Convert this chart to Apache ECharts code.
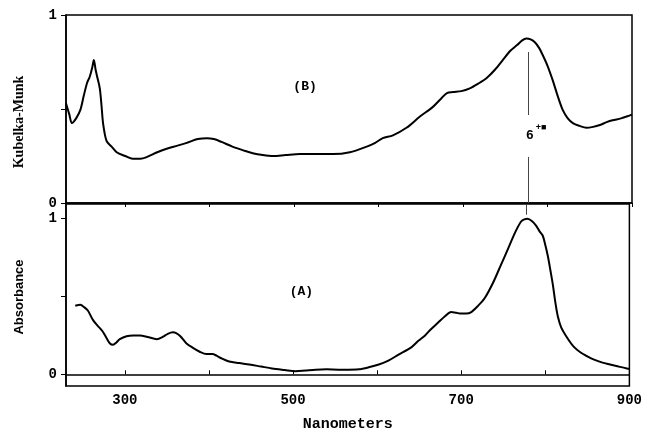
<!DOCTYPE html>
<html><head><meta charset="utf-8">
<script src="https://cdn.jsdelivr.net/npm/echarts@6/dist/echarts.min.js"></script>
<style>html,body{margin:0;padding:0;background:#fff}#c{width:645px;height:433px}</style>
</head><body><div id="c"></div>
<script>
// Panel (B): Kubelka-Munk
var bNm  = [230,234,237,242,247,251,255,258,261,263,265,267,270,272,274,278,284,290,300,309,318,326,338,350,362,373,386,397,405,414,427,440,451,463,475,490,507,525,546,566,586,596,605,617,633,649,664,675,681,688,698,708,718,728,738,747,756,764,770,775,780,785,790,794,800,806,812,818,824,830,838,846,854,862,870,877,887,897,900];
var bVal = [0.53,0.47,0.425,0.45,0.495,0.57,0.64,0.67,0.72,0.76,0.71,0.67,0.61,0.52,0.42,0.33,0.30,0.27,0.25,0.235,0.235,0.245,0.27,0.29,0.305,0.32,0.34,0.345,0.34,0.325,0.30,0.28,0.265,0.255,0.25,0.255,0.26,0.26,0.26,0.27,0.30,0.32,0.345,0.36,0.40,0.46,0.51,0.56,0.585,0.59,0.595,0.61,0.635,0.665,0.71,0.76,0.81,0.84,0.865,0.875,0.87,0.855,0.825,0.79,0.73,0.655,0.57,0.495,0.45,0.425,0.41,0.40,0.405,0.415,0.43,0.44,0.45,0.465,0.47];
// Panel (A): Absorbance
var aNm  = [241,247,252,256,262,268,273,278,282,286,290,294,302,310,318,327,338,345,351,357,361,366,373,381,389,397,404,409,414,424,436,448,462,475,490,503,515,527,540,554,566,578,590,602,614,625,641,649,657,664,672,681,688,694,700,706,712,720,728,738,747,756,764,771,775,779,784,789,793,797,800,803,806,809,812,815,819,826,834,842,850,858,868,877,887,897,900];
var aVal = [0.44,0.447,0.43,0.41,0.35,0.31,0.28,0.235,0.20,0.19,0.205,0.226,0.245,0.25,0.25,0.24,0.226,0.24,0.26,0.27,0.265,0.245,0.20,0.17,0.145,0.13,0.13,0.12,0.105,0.082,0.072,0.063,0.05,0.038,0.028,0.02,0.025,0.03,0.032,0.03,0.03,0.032,0.045,0.063,0.09,0.125,0.175,0.215,0.25,0.29,0.33,0.375,0.40,0.395,0.39,0.39,0.40,0.44,0.49,0.59,0.70,0.81,0.91,0.98,0.995,1.0,0.985,0.955,0.92,0.89,0.83,0.76,0.67,0.575,0.46,0.37,0.30,0.235,0.176,0.14,0.115,0.094,0.075,0.063,0.05,0.038,0.036];
var xTicks = [300,400,500,600,700,800,900];
var xLabels = [300,500,700,900];
var yTicks = [0,0.5,1];
var yLabels = [0,1];
var peakNm = 777;

function zip(x,y){var r=[];for(var i=0;i<x.length;i++)r.push([x[i],y[i]]);return r;}

var chart = echarts.init(document.getElementById('c'), null, {renderer:'canvas'});
function xAx(g, showLabel){
  return {gridIndex:g, type:'value', min:230, max:900,
    axisLine:{show:true, lineStyle:{color:'#000', width:1.5}},
    axisTick:{show:true, customValues:xTicks, length:4, inside: g===1, lineStyle:{color:'#000', width:1}},
    axisLabel:{show:showLabel, customValues:xLabels, margin:7, color:'#000', fontFamily:'Liberation Mono', fontWeight:'bold', fontSize:14},
    splitLine:{show:false},
    name: showLabel ? 'Nanometers' : '', nameLocation:'middle', nameGap:31,
    nameTextStyle:{color:'#000', fontFamily:'Liberation Mono', fontWeight:'bold', fontSize:15}
  };
}
function yAx(g, min, max, name, font, size, gap, pad){
  return {gridIndex:g, type:'value', min:min, max:max,
    axisLine:{show:true, lineStyle:{color:'#000', width:1.5}},
    axisTick:{show:true, customValues:yTicks, length:5, lineStyle:{color:'#000', width:1}},
    axisLabel:{show:true, customValues:yLabels, margin:9, color:'#000', fontFamily:'Liberation Mono', fontWeight:'bold', fontSize:14},
    splitLine:{show:false},
    name:name, nameLocation:'middle', nameGap:gap,
    nameTextStyle:{color:'#000', fontFamily:font, fontWeight:'bold', fontSize:size, padding:pad}
  };
}
var option = {
  animation:false,
  backgroundColor:'#fff',
  grid:[
    {left:66, top:15, width:566, height:188, show:true, borderColor:'#000', borderWidth:1.5, containLabel:false},
    {left:66, top:204, width:566, height:186, show:true, borderColor:'#000', borderWidth:1.5, containLabel:false}
  ],
  xAxis:[xAx(0,false), xAx(1,true)],
  yAxis:[yAx(0,0,1,'Kubelka-Munk','Liberation Serif',14,40,[0,26,0,0]), yAx(1,-0.075,1.094,'Absorbance','Liberation Sans',13,40,[0,4,0,0])],
  series:[
    {type:'line', xAxisIndex:0, yAxisIndex:0, data:zip(bNm,bVal), symbol:'none', smooth:0.3,
      lineStyle:{color:'#000', width:2},
      markLine:{silent:true, symbol:'none', label:{show:false}, lineStyle:{color:'#444', width:1, type:'solid'},
        data:[[{coord:[peakNm,0.803]},{coord:[peakNm,0.468]}],[{coord:[peakNm,0.245]},{coord:[peakNm,0]}]]}},
    {type:'line', xAxisIndex:1, yAxisIndex:1, data:zip(aNm,aVal), symbol:'none', smooth:0.3,
      lineStyle:{color:'#000', width:2},
      markLine:{silent:true, symbol:'none', label:{show:false}, lineStyle:{color:'#444', width:1, type:'solid'},
        data:[[{coord:[peakNm,1.094]},{coord:[peakNm,1.025]}]]}}
  ]
};
chart.setOption(option);
var pB = chart.convertToPixel({gridIndex:0}, [513, 0.617]);
var pA = chart.convertToPixel({gridIndex:1}, [510, 0.528]);
var p6 = chart.convertToPixel({gridIndex:0}, [779, 0.362]);
chart.setOption({graphic:[
  {type:'text', x:pB[0], y:pB[1], style:{text:'(B)', fill:'#000', font:'bold 13px "Liberation Mono"', align:'center', verticalAlign:'middle'}},
  {type:'text', x:pA[0], y:pA[1], style:{text:'(A)', fill:'#000', font:'bold 13px "Liberation Mono"', align:'center', verticalAlign:'middle'}},
  {type:'text', x:p6[0], y:p6[1], style:{text:'6', fill:'#000', font:'bold 13px "Liberation Sans"', align:'center', verticalAlign:'middle'}},
  {type:'text', x:p6[0]+6, y:p6[1]-7, style:{text:'+\u25A0', fill:'#000', font:'bold 9px "Liberation Sans"', align:'left', verticalAlign:'middle'}}
]});
</script></body></html>
